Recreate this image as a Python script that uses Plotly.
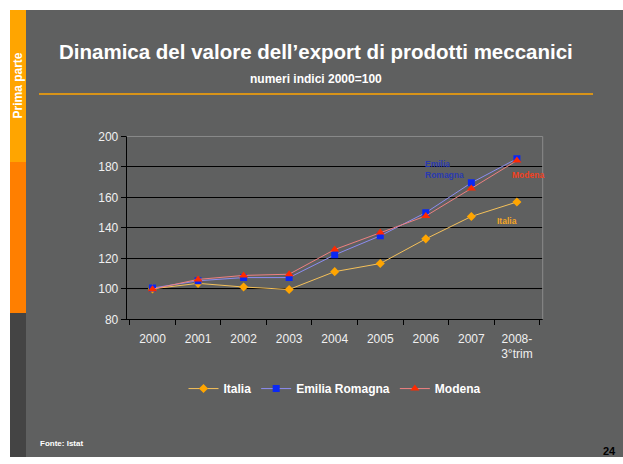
import plotly.graph_objects as go

W, H = 623, 464

categories = ["2000", "2001", "2002", "2003", "2004", "2005", "2006", "2007", "2008-<br>3°trim"]
italia = [100, 103.6, 101.2, 99.6, 111.3, 116.6, 132.8, 147.5, 157.0]
emilia = [100.5, 105.3, 107.4, 107.4, 122.3, 134.8, 150.0, 169.6, 185.4]
modena = [99.8, 106.2, 108.8, 109.6, 125.8, 136.9, 147.8, 165.9, 184.2]
y_ticks = [80, 100, 120, 140, 160, 180, 200]

FONT = "Liberation Sans, Arial"

# the captured picture comes out slightly squeezed vertically; compensate
SY_A, SY_B = 5.0, 0.976


def px_x(x):
    return x / W


def px_y(y):
    yi = (y - SY_A) / SY_B
    return min(1.0, max(0.0, 1 - yi / H))


fig = go.Figure()

fig.add_trace(go.Scatter(
    x=categories, y=italia, name="Italia", mode="lines+markers",
    line=dict(color="#F5C15A", width=1),
    marker=dict(symbol="diamond", size=7, color="#FFA500"),
))
fig.add_trace(go.Scatter(
    x=categories, y=emilia, name="Emilia Romagna", mode="lines+markers",
    line=dict(color="#8C8CF0", width=1),
    marker=dict(symbol="square", size=7, color="#0A28F5"),
))
fig.add_trace(go.Scatter(
    x=categories, y=modena, name="Modena", mode="lines+markers",
    line=dict(color="#EE8080", width=1),
    marker=dict(symbol="triangle-up", size=8, color="#FF2A00"),
))

shapes = []
shapes.append(dict(type="rect", xref="paper", yref="paper", x0=px_x(10), x1=1, y0=0, y1=px_y(8),
                   fillcolor="#5F6060", line=dict(width=0), layer="below"))
shapes.append(dict(type="rect", xref="paper", yref="paper", x0=px_x(10), x1=px_x(26), y0=px_y(161), y1=px_y(8),
                   fillcolor="#FFA500", line=dict(width=0), layer="below"))
shapes.append(dict(type="rect", xref="paper", yref="paper", x0=px_x(10), x1=px_x(26), y0=px_y(313), y1=px_y(161),
                   fillcolor="#FF7F00", line=dict(width=0), layer="below"))
shapes.append(dict(type="rect", xref="paper", yref="paper", x0=px_x(10), x1=px_x(26), y0=0, y1=px_y(313),
                   fillcolor="#444444", line=dict(width=0), layer="below"))
shapes.append(dict(type="line", xref="paper", yref="paper", x0=px_x(39), x1=px_x(593), y0=px_y(92.5), y1=px_y(92.5),
                   line=dict(color="#FFA500", width=1.5)))
shapes.append(dict(type="line", xref="x domain", yref="y", x0=0, x1=1, y0=100, y1=100,
                   line=dict(color="#5A5A5A", width=2), layer="below"))
shapes.append(dict(type="line", xref="x domain", yref="y domain", x0=0, x1=1, y0=1, y1=1,
                   line=dict(color="#8A8A8A", width=1)))
shapes.append(dict(type="line", xref="x domain", yref="y domain", x0=1, x1=1, y0=0, y1=1,
                   line=dict(color="#8A8A8A", width=1)))

annotations = [
    dict(text="<b>Dinamica del valore dell’export di prodotti meccanici</b>", x=px_x(316), y=px_y(50),
         xref="paper", yref="paper", showarrow=False, font=dict(family=FONT, size=20.5, color="white"),
         xanchor="center", yanchor="middle"),
    dict(text="<b>numeri indici 2000=100</b>", x=px_x(316), y=px_y(77),
         xref="paper", yref="paper", showarrow=False, font=dict(family=FONT, size=12, color="white"),
         xanchor="center", yanchor="middle"),
    dict(text="<b>Prima parte</b>", x=px_x(18), y=px_y(84), textangle=-90,
         xref="paper", yref="paper", showarrow=False, font=dict(family=FONT, size=12, color="white"),
         xanchor="center", yanchor="middle"),
    dict(text="<b>Fonte: Istat</b>", x=px_x(38), y=px_y(444),
         xref="paper", yref="paper", showarrow=False, font=dict(family=FONT, size=8, color="white"),
         xanchor="left", yanchor="middle"),
    dict(text="<b>24</b>", x=px_x(618), y=px_y(452),
         xref="paper", yref="paper", showarrow=False, font=dict(family=FONT, size=11, color="black"),
         xanchor="right", yanchor="middle"),
    dict(text="<b>Emilia<br>Romagna</b>", x=px_x(423), y=px_y(169),
         xref="paper", yref="paper", showarrow=False, align="left",
         font=dict(family=FONT, size=8.5, color="#2A3AB0"),
         xanchor="left", yanchor="middle"),
    dict(text="<b>Modena</b>", x=px_x(510), y=px_y(174),
         xref="paper", yref="paper", showarrow=False, align="left",
         font=dict(family=FONT, size=8.5, color="#F04020"),
         xanchor="left", yanchor="middle"),
    dict(text="<b>Italia</b>", x=px_x(495), y=px_y(220),
         xref="paper", yref="paper", showarrow=False, align="left",
         font=dict(family=FONT, size=8.5, color="#F5A623"),
         xanchor="left", yanchor="middle"),
]

fig.update_layout(
    width=W, height=H,
    margin=dict(l=0, r=0, t=0, b=0),
    paper_bgcolor="white",
    plot_bgcolor="#CBCBCB",
    font=dict(family=FONT, size=12, color="#F0F0F0"),
    shapes=shapes,
    annotations=annotations,
    showlegend=True,
    legend=dict(orientation="h", x=px_x(335), y=px_y(389), xanchor="center", yanchor="middle",
                font=dict(family=FONT, size=12, color="white", weight="bold"),
                bgcolor="rgba(0,0,0,0)", itemwidth=30, tracegroupgap=0),
    xaxis=dict(
        domain=[px_x(126.7), px_x(542.7)],
        type="category",
        showgrid=False,
        showline=True, linecolor="black", linewidth=1,
        ticks="outside", tickson="boundaries", ticklen=5, tickcolor="black",
        tickfont=dict(size=12, color="#F0F0F0"),
        ticklabelstandoff=8,
        zeroline=False,
    ),
    yaxis=dict(
        domain=[px_y(319.3), px_y(135.3)],
        range=[80, 200],
        tickvals=y_ticks,
        showgrid=True, gridcolor="black", gridwidth=1,
        showline=True, linecolor="black", linewidth=1,
        ticks="outside", ticklen=5, tickcolor="black",
        tickfont=dict(size=12, color="#F0F0F0"),
        zeroline=False,
    ),
)

fig.write_html(
    "out.html",
    config={"displayModeBar": False},
    post_script="document.body.style.margin='0';document.body.style.overflow='hidden';",
)
